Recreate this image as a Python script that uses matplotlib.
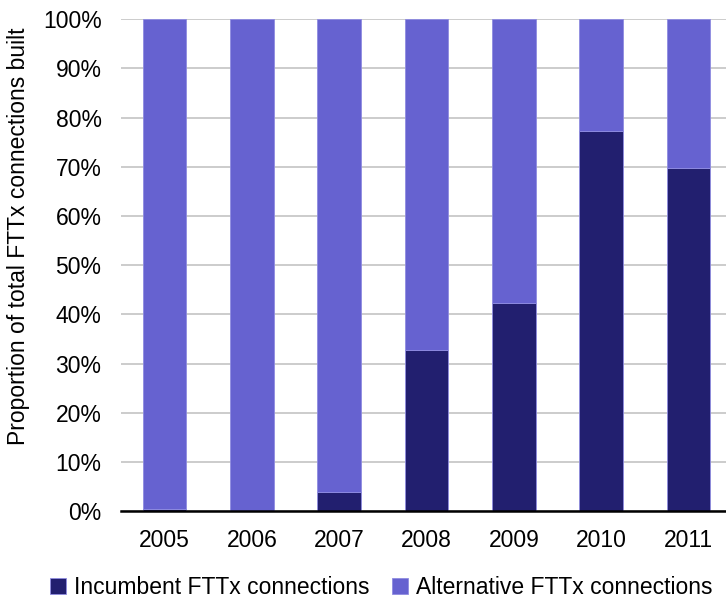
import matplotlib.pyplot as plt
import numpy as np

plt.rcParams['font.family'] = ['Liberation Sans', 'DejaVu Sans']

years = ['2005', '2006', '2007', '2008', '2009', '2010', '2011']
incumbent = [0.5, 0.0, 4.0, 32.8, 42.3, 77.2, 69.8]
alternative = [100 - v for v in incumbent]

dark = '#221f6f'
light = '#6662d0'
fs = 16.5

fig = plt.figure(figsize=(7.26, 6.02), dpi=100)
ax = fig.add_axes([0.1667, 0.1507, 0.8333, 0.8173])

x = np.arange(len(years))
ax.bar(x, incumbent, width=0.5, color=dark, edgecolor='#8f8ce0', linewidth=0.6,
       label='Incumbent FTTx connections', zorder=3)
ax.bar(x, alternative, width=0.5, bottom=incumbent, color=light, edgecolor='#8f8ce0',
       linewidth=0.6, label='Alternative FTTx connections', zorder=3)

ax.set_xlim(-0.5, 6.43)
ax.set_ylim(0, 100)
ax.set_yticks(range(0, 101, 10))
ax.set_yticklabels([f'{v}%' for v in range(0, 101, 10)])
ax.set_xticks(x)
ax.set_xticklabels(years)
ax.tick_params(axis='both', length=0, labelsize=fs, colors='black')
ax.tick_params(axis='x', pad=13)
ax.tick_params(axis='y', pad=14)

ax.grid(axis='y', color='#c4c4c4', linewidth=1.2, zorder=0)
for s in ['top', 'right', 'left']:
    ax.spines[s].set_visible(False)
ax.spines['bottom'].set_linewidth(1.8)
ax.spines['bottom'].set_zorder(4)

ax.set_ylabel('Proportion of total FTTx connections built', fontsize=fs)
ax.yaxis.set_label_coords(-0.15, 0.56)

ax.legend(loc='center', bbox_to_anchor=(0.43, -0.154), ncol=2, frameon=False,
          fontsize=fs, handlelength=0.7, handleheight=0.7, handletextpad=0.35,
          columnspacing=1.0, borderpad=0)

fig.savefig('out.png', dpi=100)
